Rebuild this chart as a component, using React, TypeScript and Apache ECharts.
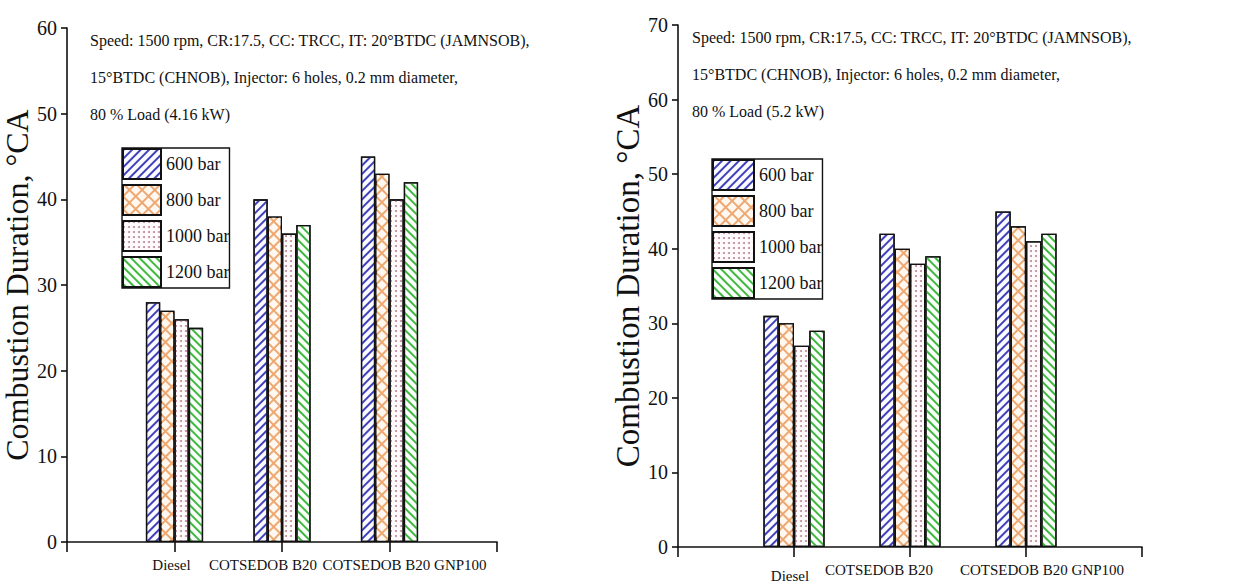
import React, { useEffect, useRef } from "react";
import * as echarts from "echarts";

const categories = ["Diesel", "COTSEDOB B20", "COTSEDOB B20 GNP100"];
const pressures = ["600 bar", "800 bar", "1000 bar", "1200 bar"];

// Left panel: 80 % Load (4.16 kW)
const left600 = [28, 40, 45];
const left800 = [27, 38, 43];
const left1000 = [26, 36, 40];
const left1200 = [25, 37, 42];

// Right panel: 80 % Load (5.2 kW)
const right600 = [31, 42, 45];
const right800 = [30, 40, 43];
const right1000 = [27, 38, 41];
const right1200 = [29, 39, 42];

const leftNote =
  "Speed: 1500 rpm, CR:17.5, CC: TRCC, IT: 20°BTDC (JAMNSOB),\n15°BTDC (CHNOB), Injector: 6 holes, 0.2 mm diameter,\n80 % Load (4.16 kW)";
const rightNote =
  "Speed: 1500 rpm, CR:17.5, CC: TRCC, IT: 20°BTDC (JAMNSOB),\n15°BTDC (CHNOB), Injector: 6 holes, 0.2 mm diameter,\n80 % Load (5.2 kW)";
const yTitle = "Combustion Duration, °CA";

const FONT = "Liberation Serif";
const INK = "#111";

const barFills = ["#fbfbff", "#eea872", "#fffafb", "#fbfffb"];
const decals: any[] = [
  { symbol: "rect", symbolSize: 1, color: "#4040bb", dashArrayX: [1, 0], dashArrayY: [1.1, 3.4], rotation: -Math.PI / 4 },
  { symbol: "rect", symbolSize: 1, color: "#fff8f1", dashArrayX: [7, 1.1], dashArrayY: [7, 1.1], rotation: Math.PI / 4 },
  { symbol: "circle", symbolSize: 1, color: "#b98a98", dashArrayX: [1.3, 2.4], dashArrayY: [1.3, 2.4], rotation: 0 },
  { symbol: "rect", symbolSize: 1, color: "#40b840", dashArrayX: [1, 0], dashArrayY: [1.1, 3.4], rotation: Math.PI / 4 },
];

const pad = (arr: number[]) => ["-", ...arr, "-"];
const axisCats = ["", ...categories, ""];

function xAxisFor(gridIndex: number, shifts: number[][]) {
  const keys = ["a", "b", "c"];
  const rich: any = {};
  keys.forEach((k, i) => {
    rich[k] = { fontFamily: FONT, fontSize: 15, color: INK, padding: shifts[i] };
  });
  return {
    type: "category",
    gridIndex,
    data: axisCats,
    boundaryGap: false,
    axisLine: { lineStyle: { color: INK, width: 1.6 } },
    axisTick: { length: 10, lineStyle: { color: INK, width: 1.6 }, interval: 0 },
    axisLabel: {
      interval: 0,
      margin: 15,
      fontFamily: FONT,
      fontSize: 15,
      color: INK,
      formatter: (v: string) => {
        const i = categories.indexOf(v);
        return i < 0 ? "" : `{${keys[i]}|${v}}`;
      },
      rich,
    },
    splitLine: { show: false },
  };
}

function yAxisFor(gridIndex: number, max: number, titleSize: number, nameGap: number) {
  return {
    type: "value",
    gridIndex,
    min: 0,
    max,
    interval: 10,
    name: yTitle,
    nameLocation: "middle",
    nameRotate: 90,
    nameGap,
    nameTextStyle: { fontFamily: FONT, fontSize: titleSize, color: INK },
    axisLine: { show: true, lineStyle: { color: INK, width: 1.6 } },
    axisTick: { show: true, length: 6, lineStyle: { color: INK, width: 1.6 } },
    axisLabel: { fontFamily: FONT, fontSize: 20, color: INK, margin: 10 },
    splitLine: { show: false },
  };
}

function seriesFor(gridIndex: number, sets: number[][], barWidth: number) {
  return sets.map((vals, i) => ({
    type: "bar",
    name: pressures[i],
    xAxisIndex: gridIndex,
    yAxisIndex: gridIndex,
    data: pad(vals),
    barWidth,
    barGap: "0%",
    itemStyle: { color: barFills[i], borderColor: INK, borderWidth: 1.3, decal: decals[i] },
  }));
}

const legendFor = (left: number, top: number, itemWidth: number) => ({
  data: pressures,
  orient: "vertical",
  left,
  top,
  icon: "rect",
  itemWidth,
  itemHeight: 30,
  itemGap: 4,
  padding: [0, 0, 0, 0],
  borderColor: INK,
  borderWidth: 1.4,
  selectedMode: false,
  textStyle: { fontFamily: FONT, fontSize: 18, color: INK },
  itemStyle: { decal: "inherit" },
});

export default function App() {
  const ref = useRef<HTMLDivElement>(null);
  useEffect(() => {
    if (!ref.current) return;
    const chart = echarts.init(ref.current, undefined, { renderer: "svg" });
    const option: any = {
      animation: false,
      backgroundColor: "#ffffff",
      title: [
        {
          text: leftNote,
          left: 90,
          top: 22,
          padding: 0,
          textStyle: { fontFamily: FONT, fontSize: 16, fontWeight: "normal", color: INK, lineHeight: 37 },
        },
        {
          text: rightNote,
          left: 692,
          top: 19,
          padding: 0,
          textStyle: { fontFamily: FONT, fontSize: 16, fontWeight: "normal", color: INK, lineHeight: 37 },
        },
      ],
      legend: [legendFor(122, 148, 38), legendFor(712, 159, 41)],
      grid: [
        { left: 62, top: 28, width: 435, height: 514 },
        { left: 678, top: 25, width: 464, height: 522 },
      ],
      xAxis: [
        xAxisFor(0, [[0, 6, 0, 0], [0, 38, 0, 0], [0, 0, 0, 30]]),
        xAxisFor(1, [[6, 8, 0, 0], [0, 62, 0, 0], [0, 0, 0, 32]]),
      ],
      yAxis: [yAxisFor(0, 60, 32, 34), yAxisFor(1, 70, 33, 34)],
      series: [
        ...seriesFor(0, [left600, left800, left1000, left1200], 14.3),
        ...seriesFor(1, [right600, right800, right1000, right1200], 15.3),
      ],
    };
    chart.setOption(option);
    return () => chart.dispose();
  }, []);
  return (
    <div
      ref={ref}
      style={{ position: "absolute", left: 0, top: 0, width: 1239, height: 583 }}
    />
  );
}
